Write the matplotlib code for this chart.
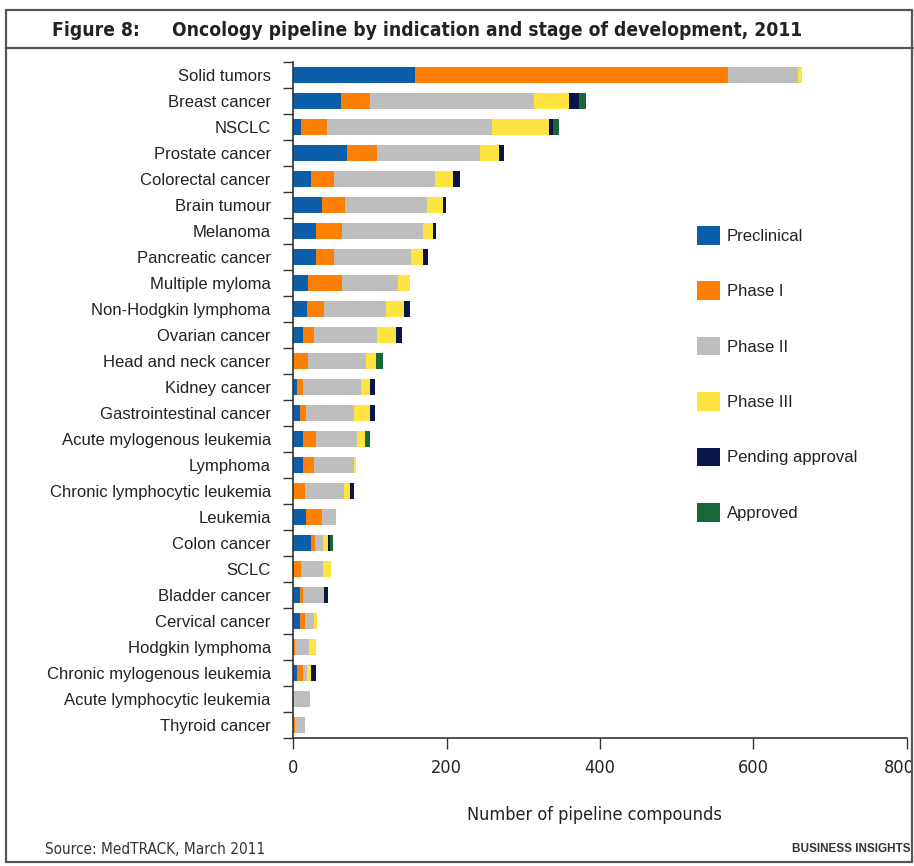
import numpy as np
import matplotlib
matplotlib.use("Agg")
import matplotlib.pyplot as plt
import matplotlib.transforms as mtransforms
from matplotlib.patches import Patch, Rectangle
from matplotlib.lines import Line2D

indications = ["Solid tumors", "Breast cancer", "NSCLC", "Prostate cancer",
               "Colorectal cancer", "Brain tumour", "Melanoma", "Pancreatic cancer",
               "Multiple myloma", "Non-Hodgkin lymphoma", "Ovarian cancer",
               "Head and neck cancer", "Kidney cancer", "Gastrointestinal cancer",
               "Acute mylogenous leukemia", "Lymphoma", "Chronic lymphocytic leukemia",
               "Leukemia", "Colon cancer", "SCLC", "Bladder cancer", "Cervical cancer",
               "Hodgkin lymphoma", "Chronic mylogenous leukemia",
               "Acute lymphocytic leukemia", "Thyroid cancer"]

preclinical = [159, 63, 10, 70, 24, 38, 30, 30, 20, 18, 13, 0, 5, 9, 13, 13, 0, 17, 24, 1, 9, 9, 0, 5, 0, 0]
phase1      = [408, 37, 34, 39, 30, 30, 34, 23, 44, 23, 15, 20, 8, 8, 17, 15, 15, 21, 5, 9, 4, 6, 3, 8, 1, 3]
phase2      = [91, 214, 215, 134, 131, 106, 105, 101, 73, 80, 82, 75, 76, 63, 53, 51, 51, 18, 10, 29, 27, 12, 18, 5, 21, 13]
phase3      = [5, 45, 75, 26, 24, 21, 13, 16, 15, 24, 24, 13, 11, 20, 11, 3, 8, 0, 7, 10, 1, 4, 9, 6, 0, 0]
pending     = [0, 14, 5, 6, 8, 5, 4, 6, 0, 7, 8, 0, 7, 7, 0, 0, 6, 0, 2, 0, 5, 0, 0, 6, 0, 0]
approved    = [0, 9, 7, 0, 0, 0, 0, 0, 0, 0, 0, 9, 0, 0, 6, 0, 0, 0, 4, 0, 0, 0, 0, 0, 0, 0]

stages = ["Preclinical", "Phase I", "Phase II", "Phase III", "Pending approval", "Approved"]
colors = ["#0B5EAA", "#FF8000", "#BEBEBE", "#FFE340", "#08164A", "#17673A"]

# condensed face for title, ticks and footer text
cond = dict(family="DejaVu Sans", fontstretch="condensed")
plt.rcParams["font.family"] = ["Liberation Sans", "DejaVu Sans"]

W, H = 914, 866
fig = plt.figure(figsize=(W / 100, H / 100), dpi=100)

def px(x, y):
    return x / W, 1 - y / H

# frame and title band
fig.patches.append(Rectangle((6 / W, 4 / H), (W - 8) / W, (H - 14) / H,
                             transform=fig.transFigure, fill=False,
                             edgecolor="#555555", lw=1.6))
fig.lines.append(Line2D([6 / W, 1], [1 - 48 / H] * 2, transform=fig.transFigure,
                        color="#555555", lw=1.6))
fig.text(*px(52, 31), "Figure 8:", fontsize=13.8, fontweight="bold",
         va="center", color="#222222", **cond)
fig.text(*px(172, 31), "Oncology pipeline by indication and stage of development, 2011",
         fontsize=13.8, fontweight="bold", va="center", color="#222222", **cond)

left, top, right, bottom = 293, 62, 907, 738
ax = fig.add_axes([left / W, 1 - bottom / H, (right - left) / W, (bottom - top) / H])

y = np.arange(len(indications))
base = np.zeros(len(indications))
for vals, name, col in zip([preclinical, phase1, phase2, phase3, pending, approved],
                           stages, colors):
    vals = np.array(vals, dtype=float)
    ax.barh(y, vals, left=base, height=0.6, color=col, label=name, linewidth=0)
    base += vals

ax.set_ylim(len(indications) - 0.5, -0.5)
ax.set_xlim(0, 800)
ax.set_xticks([0, 200, 400, 600, 800])
ax.set_yticks(y)
ax.set_yticklabels(indications, fontsize=12, color="#222222")
ax.set_yticks(np.arange(len(indications) + 1) - 0.5, minor=True)
ax.tick_params(axis="y", which="major", length=0, pad=16)
ax.tick_params(axis="y", which="minor", length=7, width=1, color="#333333")
ax.tick_params(axis="x", length=8, width=1, color="#333333", pad=7)
xlabels = ax.get_xticklabels()
for lab in xlabels:
    lab.set_family("DejaVu Sans")
    lab.set_fontstretch("condensed")
    lab.set_fontsize(13)
    lab.set_color("#222222")
# last tick label sits against the frame edge; nudge it inwards
shift = mtransforms.ScaledTranslation(-8 / 100, 0, fig.dpi_scale_trans)
xlabels[-1].set_transform(xlabels[-1].get_transform() + shift)
for s in ["top", "right"]:
    ax.spines[s].set_visible(False)
for s in ["left", "bottom"]:
    ax.spines[s].set_color("#333333")
    ax.spines[s].set_linewidth(1.2)

handles = [Patch(facecolor=c, edgecolor="none") for c in colors]
leg = fig.legend(handles, stages, loc="upper left", bbox_to_anchor=px(682, 211),
                 frameon=False, fontsize=12, handlelength=1.35, handleheight=1.35,
                 handletextpad=0.45, labelspacing=2.2)
for t in leg.get_texts():
    t.set_color("#222222")

fig.text(*px(594, 815), "Number of pipeline compounds", fontsize=13,
         ha="center", va="center", color="#222222", **cond)
fig.text(*px(45, 849), "Source: MedTRACK, March 2011", fontsize=11,
         va="center", color="#333333", **cond)
fig.text(*px(910, 849), "BUSINESS INSIGHTS", fontsize=8.5, fontweight="bold",
         ha="right", va="center", color="#333333")

fig.savefig("out.png", dpi=100)
